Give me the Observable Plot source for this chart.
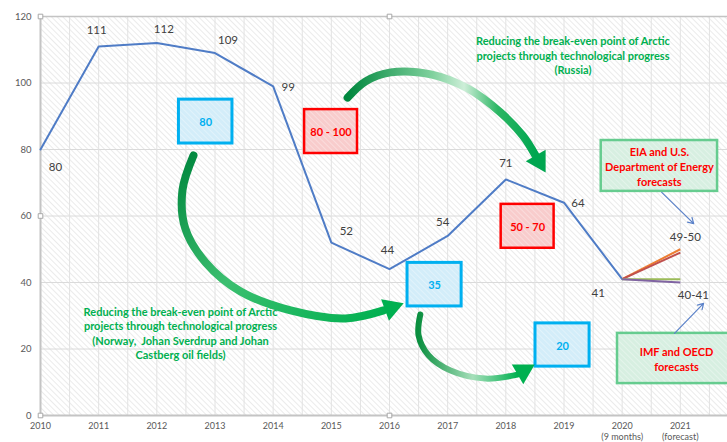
<!DOCTYPE html>
<html><head><meta charset="utf-8">
<script src="https://cdn.jsdelivr.net/npm/d3@7"></script>
<script src="https://cdn.jsdelivr.net/npm/@observablehq/plot@0.6"></script>
<style>html,body{margin:0;padding:0;background:#fff;overflow:hidden}</style>
</head><body><div id="chart"></div>
<script>
// ---- data ----
const years = [2010, 2011, 2012, 2013, 2014, 2015, 2016, 2017, 2018, 2019, 2020];
const prices = [80, 111, 112, 109, 99, 52, 44, 54, 71, 64, 41];
const forecastYear = 2021;
const forecastEnds = [50, 49, 41, 40];
const forecastColors = ["#ed7d31", "#c0504d", "#9bbb59", "#8064a2"];
const xTicks = [2010, 2011, 2012, 2013, 2014, 2015, 2016, 2017, 2018, 2019, 2020, 2021];
const xTickNotes = {2020: "(9 months)", 2021: "(forecast)"};
const yTicks = [0, 20, 40, 60, 80, 100, 120];
const priceLabels = prices.map(String);
const rangeLabels = [
  {x: 2021, y: 49.5, text: "49-50"},
  {x: 2021, y: 40.5, text: "40-41"}
];
// annotation boxes (data units)
const boxes = [
  {x1: 2012.38, x2: 2013.30, y1: 95.0, y2: 81.8, text: "80", kind: "blue"},
  {x1: 2014.54, x2: 2015.45, y1: 92.0, y2: 78.8, text: "80 - 100", kind: "red"},
  {x1: 2016.31, x2: 2017.24, y1: 45.9, y2: 32.8, text: "35", kind: "blue"},
  {x1: 2017.92, x2: 2018.83, y1: 63.5, y2: 50.3, text: "50 - 70", kind: "red"},
  {x1: 2018.51, x2: 2019.44, y1: 27.7, y2: 14.7, text: "20", kind: "blue"},
  {x1: 2019.64, x2: 2021.64, y1: 82.7, y2: 67.4, text: "EIA and U.S.\nDepartment of Energy\nforecasts", kind: "green"},
  {x1: 2019.92, x2: 2021.95, y1: 24.7, y2: 9.6, text: "IMF and OECD\nforecasts", kind: "green"}
];
const notes = [
  {x: 2019.154, y: 108.4, text: "Reducing the break-even point of Arctic\nprojects through technological progress\n(Russia)"},
  {x: 2012.407, y: 24.9, text: "Reducing the break-even point of Arctic\nprojects through technological progress\n(Norway,  Johan Sverdrup and Johan\nCastberg oil fields)"}
];
// big curved arrows (data units)
const arrowNorway = [[2012.63, 78.2], [2012.44, 67.7], [2012.49, 56.2], [2012.84, 46.0], [2013.44, 37.3], [2014.30, 31.6], [2015.24, 29.2], [2015.90, 31.6]];
const arrowRussia = [[2015.28, 95.6], [2015.59, 100.5], [2016.02, 103.2], [2016.71, 102.6], [2017.34, 98.4], [2017.91, 91.1], [2018.29, 84.2], [2018.51, 78.2]];
const arrowDown = [[2016.53, 30.4], [2016.50, 24.1], [2016.67, 18.1], [2017.05, 13.5], [2017.65, 11.1], [2018.20, 12.3]];
const arrowHeads = [
  {x: 2016.03, y: 32.4, angle: 70, id: "n"},
  {x: 2018.57, y: 76.5, angle: 150, id: "r"},
  {x: 2018.30, y: 13.35, angle: 60, id: "d"}
];
const pointers = [
  {x1: 2020.68, y1: 67.1, x2: 2021.23, y2: 57.7},
  {x1: 2020.90, y1: 24.7, x2: 2021.40, y2: 33.7}
];
const handles = [
  {x: 2010, y: 120}, {x: 2016, y: 120}, {x: 2010, y: 60}, {x: 2010, y: 0}, {x: 2016, y: 0}
];

// ---- styles ----
const labelOffsets = [[15, 18], [-2, -16], [7, -14], [13, -13], [15, 1], [15, -11], [-2, -19], [-5, -14], [0, -16], [14, 1], [-24, 14]];
const rangeLabelOffsets = [[5, -14], [13, 14]];
const boxFill = {blue: "#d3edf9", red: "#f8cccc", green: "#d7efe1"};
const boxStroke = {blue: "#00b0f0", red: "#ff0000", green: "#66cc8f"};
const boxStrokeW = {blue: 3, red: 2.5, green: 2.5};
const boxText = {blue: "#00b0f0", red: "#ff0000", green: "#ff0000"};
const FONT = "Lato, 'Open Sans', sans-serif";

const priceRows = years.map((y, i) => ({year: y, value: prices[i]}));
const forecastRows = forecastEnds.map((v, i) => ({x1: 2020, y1: prices[prices.length - 1], x2: forecastYear, y2: v, c: forecastColors[i]}));
const toRows = (pts, id) => pts.map(([x, y]) => ({x, y, id}));
const arrowRows = [...toRows(arrowNorway, "n"), ...toRows(arrowRussia, "r"), ...toRows(arrowDown, "d")];
const halfYears = d3.range(2010.5, 2022.01, 0.5);

const marks = [
  Plot.frame({fill: "url(#hatch)", stroke: null}),
  Plot.ruleY([20, 40, 60, 80, 100], {stroke: "#dadada", strokeWidth: 1}),
  Plot.ruleX(halfYears, {stroke: "#e2e2e2", strokeWidth: 1}),
  Plot.ruleY([120], {stroke: "#c4c4c4", strokeWidth: 1.5}),
  Plot.ruleY([0], {stroke: "#c4c4c4", strokeWidth: 2}),
  Plot.ruleX([2010], {stroke: "#c4c4c4", strokeWidth: 2}),
  Plot.axisY(yTicks, {tickSize: 0, tickPadding: 9, fontSize: 9.5, fill: "#595959"}),
  Plot.axisX(xTicks, {tickSize: 0, tickPadding: 6, fontSize: 9, fill: "#595959", lineHeight: 1.2,
    tickFormat: d => d + (xTickNotes[d] ? "\n" + xTickNotes[d] : "")}),
  Plot.dot(handles, {x: "x", y: "y", symbol: "square", r: 2.6, fill: "white", stroke: "#a8a8a8", strokeWidth: 1}),
  // boxes
  Plot.rect(boxes, {x1: "x1", x2: "x2", y1: "y1", y2: "y2", fill: d => boxFill[d.kind]}),
  Plot.rect(boxes, {x1: "x1", x2: "x2", y1: "y1", y2: "y2", fill: "url(#hatchOver)"}),
  Plot.rect(boxes, {x1: "x1", x2: "x2", y1: "y1", y2: "y2", fill: "none", stroke: d => boxStroke[d.kind], strokeWidth: d => boxStrokeW[d.kind]}),
  Plot.text(boxes, {x: d => (d.x1 + d.x2) / 2, y: d => (d.y1 + d.y2) / 2, text: "text", fill: d => boxText[d.kind],
    fontWeight: "bold", fontSize: 11, lineHeight: 1.35}),
  // main line and forecasts
  Plot.line(priceRows, {x: "year", y: "value", stroke: "#4f7cc6", strokeWidth: 2}),
  Plot.link(forecastRows, {x1: "x1", y1: "y1", x2: "x2", y2: "y2", stroke: "c", strokeWidth: 2}),
  // labels
  ...priceRows.map((d, i) => Plot.text([d], {x: "year", y: "value", text: () => priceLabels[i],
    dx: labelOffsets[i][0], dy: labelOffsets[i][1], fontSize: 11.5, fill: "#404040"})),
  ...rangeLabels.map((d, i) => Plot.text([d], {x: "x", y: "y", text: "text",
    dx: rangeLabelOffsets[i][0], dy: rangeLabelOffsets[i][1], fontSize: 11.5, fill: "#404040"})),
  // green notes
  Plot.text(notes, {x: "x", y: "y", text: "text", fill: "#00b050", fontWeight: "bold", fontSize: 11, lineHeight: 1.32}),
  // curved arrows
  Plot.line(arrowRows.filter(d => d.id === "n"), {x: "x", y: "y", curve: "catmull-rom", stroke: "url(#gradN)", strokeWidth: 8}),
  Plot.line(arrowRows.filter(d => d.id === "r"), {x: "x", y: "y", curve: "catmull-rom", stroke: "url(#gradR)", strokeWidth: 8}),
  Plot.line(arrowRows.filter(d => d.id === "d"), {x: "x", y: "y", curve: "catmull-rom", stroke: "url(#gradD)", strokeWidth: 6}),
  Plot.dot(arrowHeads, {x: "x", y: "y", symbol: "triangle", r: 8.5, rotate: "angle",
    fill: d => d.id === "r" ? "#00a650" : "#00b050", stroke: null}),
  // thin pointers
  Plot.arrow(pointers, {x1: "x1", y1: "y1", x2: "x2", y2: "y2", stroke: "#5b82c9", strokeWidth: 1.2, headLength: 8})
];

const chart = Plot.plot({
  width: 727, height: 442,
  marginTop: 16, marginLeft: 40, marginRight: 0, marginBottom: 27,
  style: {fontFamily: FONT, background: "white", color: "#595959"},
  x: {domain: [2010, 2022], range: [40, 738]},
  y: {domain: [0, 120], range: [415, 16]},
  marks
});

const defs = `
<defs>
 <pattern id="hatch" patternUnits="userSpaceOnUse" width="4" height="4" patternTransform="rotate(-45)">
   <rect width="4" height="4" fill="#ffffff"/>
   <line x1="0" y1="0" x2="0" y2="4" stroke="#e6e6e6" stroke-width="1.6"/>
 </pattern>
 <pattern id="hatchOver" patternUnits="userSpaceOnUse" width="4" height="4" patternTransform="rotate(-45)">
   <line x1="0" y1="0" x2="0" y2="4" stroke="rgba(255,255,255,0.45)" stroke-width="1.4"/>
 </pattern>
 <linearGradient id="gradN" x1="0" y1="0" x2="1" y2="1">
   <stop offset="0" stop-color="#00873e"/><stop offset="0.5" stop-color="#3cbf70"/><stop offset="1" stop-color="#00b050"/>
 </linearGradient>
 <linearGradient id="gradR" x1="0" y1="0" x2="1" y2="0">
   <stop offset="0" stop-color="#00873e"/><stop offset="0.45" stop-color="#7fd19d"/><stop offset="0.62" stop-color="#cdeed8"/><stop offset="0.8" stop-color="#2bb663"/><stop offset="1" stop-color="#00a650"/>
 </linearGradient>
 <linearGradient id="gradD" x1="0" y1="0" x2="1" y2="0">
   <stop offset="0" stop-color="#0a8f3f"/><stop offset="0.55" stop-color="#a6dfba"/><stop offset="1" stop-color="#00b050"/>
 </linearGradient>
</defs>`;
chart.insertAdjacentHTML("afterbegin", defs);
document.getElementById("chart").appendChild(chart);
</script>
</body></html>
